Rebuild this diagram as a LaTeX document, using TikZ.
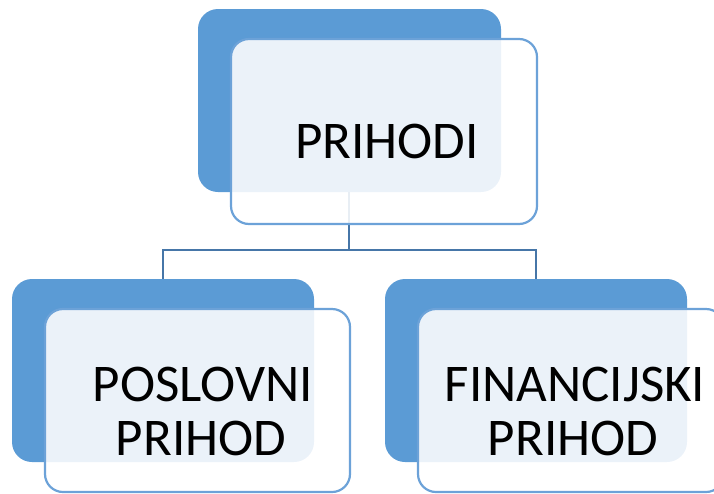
\documentclass[tikz,border=0pt]{standalone}
\usepackage{fontspec}
\setmainfont{Carlito}
\begin{document}
\begin{tikzpicture}[x=1pt,y=-1pt,
  back/.style={fill=smBlue,draw=none,rounded corners=20pt},
  front/.style={fill=white,fill opacity=0.88,draw=smBorder,draw opacity=1,line width=2.2pt,rounded corners=18pt},
  conn/.style={draw=smLine,line width=2.8pt},
  lbl/.style={font=\fontsize{53}{54}\selectfont,text=black,align=center,inner sep=0pt}]
\definecolor{smBlue}{HTML}{5B9BD5}
\definecolor{smBorder}{HTML}{6CA2D8}
\definecolor{smLine}{HTML}{4676A8}
\useasboundingbox (0,0) rectangle (714,493);
\clip (0,0) rectangle (714,493);
% back rectangles
\path[back] (198,9) rectangle (501,192);
\path[back] (12,279) rectangle (314,462);
\path[back] (385,279) rectangle (687,462);
\coordinate (ptop) at (349,192);
\coordinate (pl) at (163,279);
\coordinate (pr) at (536,279);
% connectors
\draw[conn] (ptop) -- (349,250) -| (pl);
\draw[conn] (349,250) -| (pr);
% front boxes
\path[front] (231,39) rectangle (537,224);
\path[front] (45,309) rectangle (350,492);
\path[front] (418,309) rectangle (724,492);
% labels
\node[lbl,anchor=base] (t) at (387,158) {PRIHODI};
\node[lbl,anchor=base] (l1) at (203,401) {POSLOVNI};
\node[lbl,anchor=base] (l2) at (201,455) {PRIHOD};
\node[lbl,anchor=base] (r1) at (575,401) {FINANCIJSKI};
\node[lbl,anchor=base] (r2) at (573,455) {PRIHOD};
\end{tikzpicture}
\end{document}
